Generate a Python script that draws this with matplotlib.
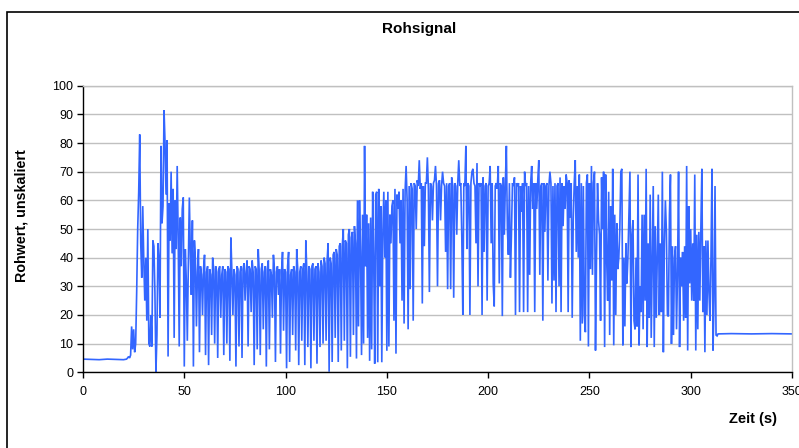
import numpy as np
import matplotlib
matplotlib.use("Agg")
import matplotlib.pyplot as plt
from matplotlib.patches import Rectangle

# ---------------- data ----------------
title = "Rohsignal"
xlabel = "Zeit (s)"
ylabel = "Rohwert, unskaliert"
xticks = [0, 50, 100, 150, 200, 250, 300, 350]
yticks = [0, 10, 20, 30, 40, 50, 60, 70, 80, 90, 100]

# flat start (s, value)
t_start = [0.0, 4.0, 8.0, 12.0, 16.0, 20.0, 21.5]
v_start = [4.6, 4.5, 4.4, 4.6, 4.5, 4.4, 4.6]

dt = 0.5  # sample spacing of the dense segments (s)

seg1_t0 = 22.0
seg1 = [5, 5.5, 5, 6, 16, 8, 15, 7, 10, 28, 50, 63, 83, 45, 33, 58, 39, 25, 40, 18,
        50, 10, 9, 20, 9, 46, 44, 28, 0, 13, 45, 39, 19, 79, 52, 58, 91.5, 80, 62, 81,
        5.5, 59, 46, 70, 41.5, 64, 12, 60, 43, 72, 47, 9, 54, 37, 57, 61, 2, 43, 32, 11,
        38, 61, 41, 27, 53, 2,
        46, 39, 16, 35, 43, 7, 37, 34, 20, 36,
        41, 6, 35, 37, 2.5, 36, 34, 13, 40, 36,
        10, 37, 35, 5, 36, 37, 19, 34, 37, 6,
        36, 35, 10, 37, 36, 4, 47, 35, 20, 36,
        34, 2, 37, 36, 9, 35]

seg2_t0 = 78.0
seg2 = [37, 5, 36, 38, 25, 35, 39, 9, 37, 36,
        21, 39, 35, 2.5, 37, 36, 8, 43, 35, 6,
        36, 38, 15, 35, 37, 2, 36, 39, 8, 36,
        34, 19, 41, 36, 3.6, 35, 37, 27, 36, 6.5,
        35, 42, 14.5, 36, 35, 1.4, 37, 42, 3.6, 34,
        36, 13, 37, 35, 7.6, 43, 36, 2.5, 35, 37,
        11, 36, 38, 2.5, 46, 35, 8.8, 37, 36, 1.4,
        37, 38, 11, 36, 37, 3, 38, 35, 8.8, 39,
        37, 10, 40, 38, 11, 39, 45, 0.2, 40, 38,
        3.6, 41, 42, 12, 43, 41, 3.6, 44, 45, 7.6,
        44, 50, 11, 46, 45, 1.4, 48, 50, 5.4, 47,
        49, 13, 51, 45, 4.8, 60, 16]

seg3_t0 = 136.5
seg3 = [60, 42, 6, 55, 10, 79, 37, 55, 12, 52, 4, 54, 8, 63, 40, 3, 62, 63, 3.5, 64,
        30, 58, 3.5, 48, 63, 40, 60, 7.5, 63, 9, 55, 45, 58, 60, 18, 64, 6.5, 62, 57, 63,
        45, 60, 25, 64, 17, 63, 72, 60, 15, 65, 29, 66, 64, 18, 66, 65, 50, 67, 65, 74,
        64, 66, 24, 65, 44, 66, 66, 75, 64, 28, 66, 65, 53, 66, 67, 72, 65, 30, 66, 67,
        53, 65, 70, 66, 65, 42, 66, 29, 65, 66, 29, 68, 65, 26, 66, 65, 48, 66, 74, 65,
        66, 47, 20, 66, 65, 79, 43, 66, 65, 20, 66, 70, 71, 66, 65, 45, 73, 30, 66, 65]

seg4_t0 = 196.5
seg4 = [66, 20, 68, 42, 65, 66, 25, 65, 66, 72, 45, 66, 31, 23, 65, 66, 64, 72, 31, 66,
        65, 19.6, 68, 48, 66, 79, 50, 41, 66, 33, 48, 66, 65, 68, 20, 66, 65, 66, 21, 65,
        56, 66, 21, 70, 65, 66, 21, 65, 34, 66, 72, 57, 66, 21, 66, 57, 67, 74, 34, 65,
        66, 18, 66, 49, 65, 66, 32, 65, 70, 66, 24, 65, 32, 66, 21, 65, 66, 30, 68, 21,
        66, 51, 65, 57, 69, 66, 21, 67, 54, 66, 19, 53, 66, 74, 42, 65, 40, 69, 11, 66,
        17, 65, 20, 14, 66, 69, 9, 66, 36, 72, 34, 66, 70, 7.6, 40, 66, 53, 48]

seg5_t0 = 255.5
seg5 = [18, 68, 50, 70, 8.8, 69, 40, 25, 63, 13, 58, 32, 71, 9.4, 55, 20, 52, 36, 40, 50,
        70, 71, 9.4, 40, 16, 45, 31, 40, 55, 70, 8.8, 48, 53, 18, 15, 40, 16, 69, 9.4, 30,
        21, 55, 15, 55, 25, 71, 8.8, 45, 19, 62, 12, 40, 65, 8.8, 51, 19, 40, 62, 20, 45,
        21, 70, 7, 45, 60, 49, 20, 19.5, 55, 69, 9.9, 44, 13, 40, 44, 15, 35, 70, 8.8, 40,
        30, 42, 18, 44, 19, 72, 7.6, 58, 31, 50, 25, 45, 25, 69, 7.6, 48, 15, 49, 25, 50,
        71, 21, 44, 7, 46, 20, 46, 28, 18, 40, 71, 7.6, 25, 65, 13, 12.7]

# flat end (s, value)
t_end = [313.5, 320.0, 330.0, 340.0, 350.0]
v_end = [13.4, 13.5, 13.4, 13.5, 13.4]

# ---------------- assemble ----------------
segs = [(seg1_t0, seg1), (seg2_t0, seg2), (seg3_t0, seg3), (seg4_t0, seg4), (seg5_t0, seg5)]
t_all = [np.asarray(t_start)]
v_all = [np.asarray(v_start, dtype=float)]
for t0, vals in segs:
    t_all.append(t0 + dt * np.arange(len(vals)))
    v_all.append(np.asarray(vals, dtype=float))
t_all.append(np.asarray(t_end))
v_all.append(np.asarray(v_end, dtype=float))
t = np.concatenate(t_all)
v = np.concatenate(v_all)

# ---------------- figure ----------------
plt.rcParams['font.family'] = ['Liberation Sans', 'DejaVu Sans']
W, H = 799, 448
fig = plt.figure(figsize=(W / 100, H / 100), dpi=100)
fig.patch.set_facecolor('white')

# outer chart frame (runs off the right/bottom edge like the reference)
fig.patches.append(Rectangle((7 / W, -0.1), 1.2, 1 - 12 / H + 0.1, transform=fig.transFigure,
                             fill=False, edgecolor='black', linewidth=1.2))

left, right, top, bottom = 83, 792, 85.7, 372.3
ax = fig.add_axes([left / W, 1 - bottom / H, (right - left) / W, (bottom - top) / H])

ax.plot(t, v, color='#3366FF', linewidth=1.2, solid_joinstyle='miter')

ax.set_xlim(0, 350)
ax.set_ylim(0, 100)
ax.set_xticks(xticks)
ax.set_yticks(yticks)
ax.set_xticklabels([str(x) for x in xticks], fontsize=9)
ax.set_yticklabels([str(y) for y in yticks], fontsize=9)
ax.tick_params(axis='both', direction='out', length=4, width=1, color='black', pad=3)
ax.tick_params(axis='x', pad=6)

ax.grid(axis='y', color='#C0C0C0', linewidth=1.0)
ax.set_axisbelow(True)
for s in ['top', 'right']:
    ax.spines[s].set_color('#C0C0C0')
    ax.spines[s].set_linewidth(1.0)
for s in ['left', 'bottom']:
    ax.spines[s].set_color('black')
    ax.spines[s].set_linewidth(1.0)

fig.text(419 / W, 1 - 29 / H, title, ha='center', va='center', fontsize=11, fontweight='bold')
fig.text(22 / W, 1 - 216 / H, ylabel, ha='center', va='center', rotation=90,
         fontsize=10.3, fontweight='bold')
fig.text(753 / W, 1 - 419 / H, xlabel, ha='center', va='center', fontsize=10.5, fontweight='bold')

fig.savefig('out.png', dpi=100, facecolor='white')
